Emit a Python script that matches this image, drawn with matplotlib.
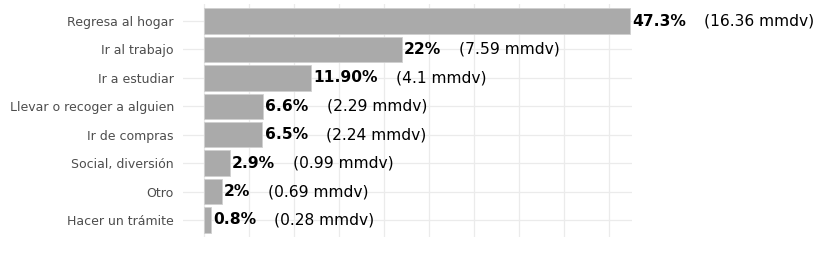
import matplotlib
matplotlib.use("Agg")
import matplotlib.pyplot as plt
from matplotlib.ticker import MultipleLocator

categories = ["Regresa al hogar", "Ir al trabajo", "Ir a estudiar",
              "Llevar o recoger a alguien", "Ir de compras",
              "Social, diversión", "Otro", "Hacer un trámite"]
pct_values = [47.3, 22.0, 11.9, 6.6, 6.5, 2.9, 2.0, 0.8]
pct_labels = ["47.3%", "22%", "11.90%", "6.6%", "6.5%", "2.9%", "2%", "0.8%"]
mmdv_labels = ["(16.36 mmdv)", "(7.59 mmdv)", "(4.1 mmdv)", "(2.29 mmdv)",
               "(2.24 mmdv)", "(0.99 mmdv)", "(0.69 mmdv)", "(0.28 mmdv)"]

plt.rcParams['font.family'] = ['DejaVu Sans']

W, H = 827, 254
fig = plt.figure(figsize=(W / 100, H / 100), dpi=100)
left, right, top, bottom = 183, 632, 4, 237
ax = fig.add_axes([left / W, (H - bottom) / H, (right - left) / W, (bottom - top) / H])

n = len(categories)
ypos = list(range(n))
ax.barh(ypos, pct_values, height=0.9, color="#aaaaaa", edgecolor="#d0d0d0",
        linewidth=0.6, zorder=2)

ax.set_ylim(n - 1 + 0.6, -0.6)
ax.set_xlim(-2.33, 47.55)
ax.xaxis.set_major_locator(MultipleLocator(5))
ax.grid(True, axis="both", color="#ebebeb", linewidth=0.9, zorder=0)
ax.set_axisbelow(True)
for s in ax.spines.values():
    s.set_visible(False)
ax.set_yticks(ypos)
ax.set_yticklabels(categories, fontsize=9, color="#4d4d4d")
ax.tick_params(axis="y", length=0, pad=6.5)
ax.tick_params(axis="x", length=0, labelbottom=False)

for y, v, p, m in zip(ypos, pct_values, pct_labels, mmdv_labels):
    t = ax.annotate(p, xy=(v, y), xytext=(1.5, 0), textcoords="offset points",
                    ha="left", va="center", fontsize=11.2, fontweight="bold",
                    color="black", annotation_clip=False)
    ax.annotate(m, xy=(1, 0.5), xycoords=t, xytext=(13, 0),
                textcoords="offset points", ha="left", va="center",
                fontsize=11.2, color="black", annotation_clip=False)

fig.savefig("out.png", dpi=100, facecolor="white")
